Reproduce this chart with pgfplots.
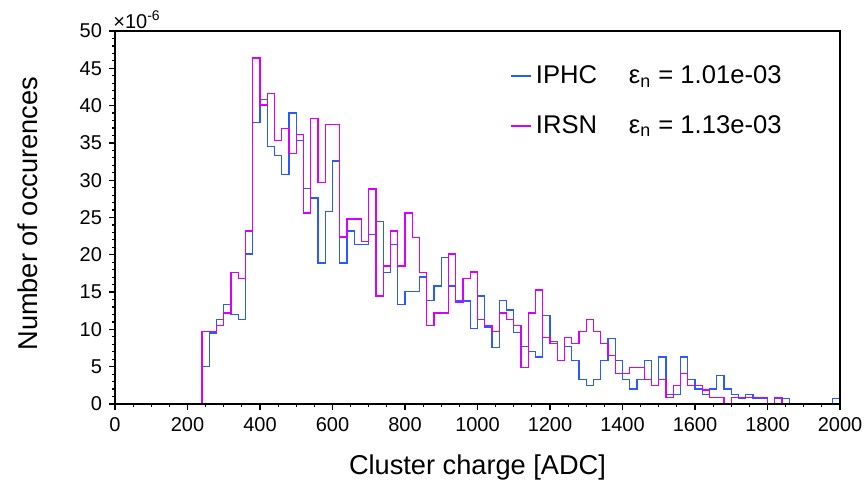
\documentclass[border=0pt]{standalone}
\usepackage{fontspec}
\setmainfont{Liberation Sans}
\usepackage{pgfplots}
\pgfplotsset{compat=1.18}
\definecolor{iphc}{RGB}{40,90,255}
\definecolor{irsn}{RGB}{215,0,255}
\begin{document}
\begin{tikzpicture}
\path[use as bounding box] (-57.5pt,-41pt) rectangle (376.5pt,202pt);
\begin{axis}[
  at={(0,0)}, anchor=south west,
  scale only axis, width=362.5pt, height=186.5pt,
  xmin=0, xmax=2000, ymin=0, ymax=50,
  clip=false,
  xtick={0,200,...,2000}, ytick={0,5,...,50},
  minor x tick num=3, minor y tick num=4,
  tick align=outside, xtick pos=bottom, ytick pos=left,
  major tick length=3pt, minor tick length=1.6pt,
  axis line style={draw=black, line width=0.8pt},
  every tick/.style={black, line width=0.6pt},
  /pgf/number format/assume math mode=true,
  /pgf/number format/1000 sep={},
  ticklabel style={font=\fontsize{10}{12}\selectfont},
  xlabel={Cluster charge [ADC]},
  ylabel={Number of occurences},
  label style={font=\fontsize{13.6}{16}\selectfont},
  xlabel style={at={(axis description cs:0.5,-0.169)}, anchor=center},
  ylabel style={at={(axis description cs:-0.12,0.51)}, anchor=center},
  legend style={draw=none, fill=none, at={(rel axis cs:0.545,0.919)}, anchor=north west,
    font=\fontsize{12.8}{15}\selectfont, row sep=10.5pt, inner sep=0pt},
  legend cell align=left,
  legend image code/.code={\draw[#1] (0pt,0pt) -- (10pt,0pt);},
]
\addplot[const plot, iphc, line width=0.7pt] coordinates {
(0,0) (240,5.0) (260,9.5) (280,11.3) (300,13.3) (320,12.0) (340,11.3) (360,20.1) (380,37.7) (400,40.8) (420,34.5) (440,33.3) (460,30.8) (480,39.0) (500,35.3) (520,28.9) (540,27.6) (560,18.9) (580,25.8) (600,32.6) (620,18.9) (640,23.2) (660,21.4) (680,21.4) (700,22.7) (720,24.5) (740,17.6) (760,21.4) (780,13.3) (800,15.1) (820,15.1) (840,17.0) (860,13.9) (880,15.8) (900,19.6) (920,15.8) (940,13.8) (960,13.8) (980,10.1) (1000,14.5) (1020,10.3) (1040,7.6) (1060,13.9) (1080,12.6) (1100,9.6) (1120,7.7) (1140,7.0) (1160,6.3) (1180,11.9) (1200,8.4) (1220,5.8) (1240,7.7) (1260,5.8) (1280,3.3) (1300,2.5) (1320,3.3) (1340,5.8) (1360,8.8) (1380,5.8) (1400,3.3) (1420,2.0) (1440,3.3) (1460,5.8) (1480,2.5) (1500,6.3) (1520,1.3) (1540,1.3) (1560,6.3) (1580,3.3) (1600,2.0) (1620,1.3) (1640,2.0) (1660,3.8) (1680,2.0) (1700,1.3) (1720,0.76) (1740,1.3) (1760,0.76) (1780,0.76) (1800,0) (1820,0.76) (1840,0.76) (1860,0) (1980,0.76) (2000,0.76)
};
\addlegendentry{\makebox[46.5pt][l]{IPHC}ε\textsubscript{n} = 1.01e-03}
\addplot[const plot, irsn, line width=0.7pt] coordinates {
(0,0) (240,9.7) (260,9.7) (280,10.5) (300,12.2) (320,17.6) (340,16.8) (360,23.2) (380,46.4) (400,40.1) (420,41.6) (440,35.3) (460,36.9) (480,33.6) (500,36.1) (520,25.6) (540,38.3) (560,29.7) (580,37.5) (600,37.5) (620,22.4) (640,24.8) (660,24.8) (680,21.8) (700,28.8) (720,14.5) (740,18.5) (760,23.2) (780,18.5) (800,25.6) (820,22.3) (840,17.6) (860,10.5) (880,12.2) (900,12.2) (920,20.1) (940,13.6) (960,16.8) (980,17.7) (1000,11.3) (1020,10.5) (1040,9.7) (1060,12.2) (1080,11.3) (1100,10.5) (1120,4.9) (1140,12.2) (1160,15.3) (1180,8.9) (1200,8.1) (1220,5.8) (1240,8.9) (1260,8.1) (1280,9.7) (1300,11.3) (1320,9.7) (1340,8.1) (1360,6.5) (1380,4.1) (1400,4.1) (1420,4.9) (1440,4.9) (1460,3.3) (1480,2.5) (1500,3.3) (1520,0.9) (1540,2.5) (1560,4.1) (1580,2.5) (1600,2.5) (1620,1.9) (1640,0.9) (1660,0.9) (1680,0) (1700,0.9) (1720,0.9) (1740,0.9) (1760,0.9) (1780,0.9) (1800,0) (1820,0.9) (1840,0) (2000,0)
};
\addlegendentry{\makebox[46.5pt][l]{IRSN}ε\textsubscript{n} = 1.13e-03}
\draw[black, line width=0.8pt] (rel axis cs:0,0) rectangle (rel axis cs:1,1);
\node[anchor=base west, inner sep=0pt, xshift=-1pt, yshift=1.5pt, font=\fontsize{10}{12}\selectfont] at (rel axis cs:0,1) {×10\textsuperscript{-6}};
\end{axis}
\end{tikzpicture}
\end{document}
